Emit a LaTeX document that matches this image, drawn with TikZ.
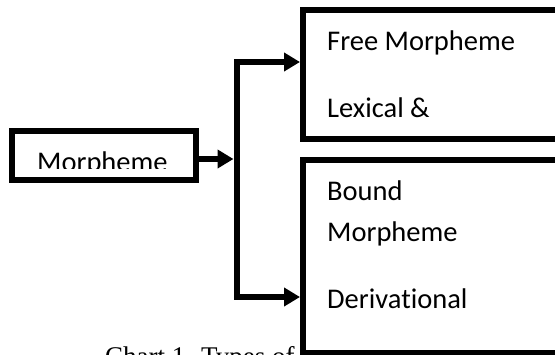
\documentclass[tikz,border=0pt]{standalone}
\usepackage{fontspec}
\setmainfont[Ligatures=NoCommon]{Carlito}
\newfontfamily\captionfont{Liberation Serif}
\usetikzlibrary{arrows.meta}
\begin{document}
\begin{tikzpicture}[x=1pt,y=-1pt,
  box/.style={draw=black,line width=6pt,fill=white,rectangle,inner sep=0pt,
    line join=miter,outer sep=3pt},
  label/.style={inner sep=0pt,anchor=base west,font=\fontsize{28.5}{30}\selectfont},
  conn/.style={line width=6pt,line join=miter,-{Triangle[length=16pt,width=18pt]}}]
\useasboundingbox (0,0) rectangle (555,354);
\clip (0,0) rectangle (555,354);

% caption line under the chart
\node[inner sep=0pt,anchor=base west,font=\captionfont\fontsize{27}{29}\selectfont]
  (caption) at (105,365) {Chart 1. Types of};

% root box
\node[box,anchor=north west,minimum width=184pt,minimum height=49pt]
  (morph) at (9,128) {};
\begin{scope}
  \clip (15,134) rectangle (193,168);
  \node[label] (morphtext) at (37,171.5) {Morpheme};
\end{scope}

% branch boxes, running off the right edge
\node[box,anchor=north west,minimum width=400pt,minimum height=128.5pt]
  (free) at (300,7) {};
\node[box,anchor=north west,minimum width=400pt,minimum height=192.5pt]
  (bound) at (300,157) {};

\node[label] (freetext) at (327,50) {Free Morpheme};
\node[label] (lextext) at (327,117.5) {Lexical \&};
\node[label] (boundtext) at (327,200) {Bound};
\node[label] (boundtext2) at (327,241.5) {Morpheme};
\node[label] (derivtext) at (327,308) {Derivational};

% connectors
\coordinate (hub) at (236.5,159);
\coordinate (upper) at (236.5,62);
\coordinate (lower) at (236.5,297);
\draw[conn] (morph.east |- hub) -- ([xshift=-3pt]hub);
\draw[conn] (hub) -- (upper) -- (free.west |- upper);
\draw[conn] (hub) -- (lower) -- (bound.west |- lower);
\end{tikzpicture}
\end{document}
